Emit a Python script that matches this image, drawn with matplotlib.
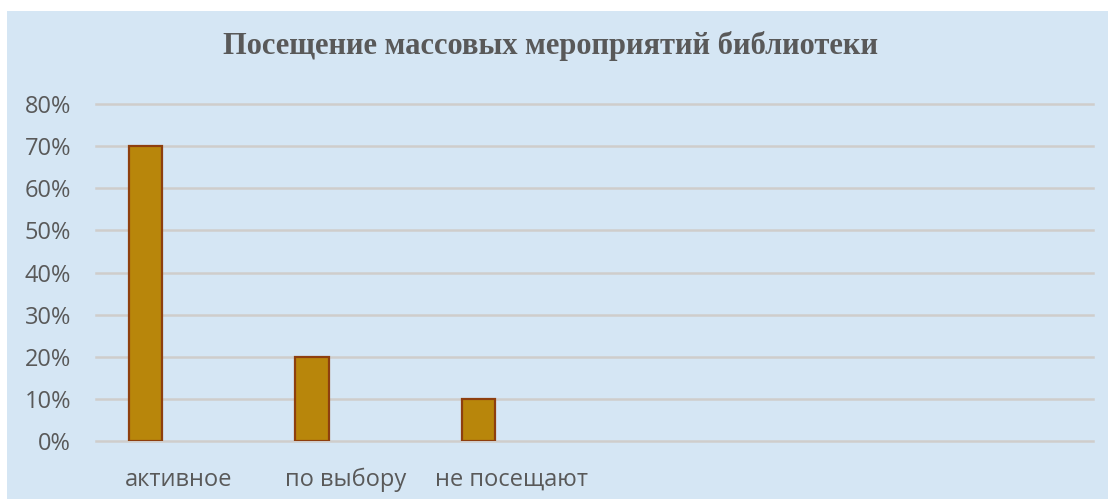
import matplotlib.pyplot as plt
from matplotlib.patches import Rectangle
from matplotlib.ticker import PercentFormatter

title = "Посещение массовых мероприятий библиотеки"
categories = ["активное", "по выбору", "не посещают"]
shares = [0.70, 0.20, 0.10]
n_slots = 6
y_ticks = [0.0, 0.1, 0.2, 0.3, 0.4, 0.5, 0.6, 0.7, 0.8]

bg = "#D5E6F4"
text_col = "#595959"

fig = plt.figure(figsize=(11.08, 4.99), dpi=100)
fig.patch.set_facecolor("white")
fig.patches.append(
    Rectangle(
        (7 / 1108, 0),
        1 - 7 / 1108,
        1 - 11 / 499,
        transform=fig.transFigure,
        facecolor=bg,
        edgecolor="none",
        zorder=-5
    )
)

ax = fig.add_axes([96 / 1108, 1 - 441 / 499, (1093 - 96) / 1108, (441 - 104) / 499])
ax.set_facecolor("none")
ax.set_zorder(2)

# clustered layout: this series sits first in a cluster of three
bar_w = 0.2
xs = [i - bar_w for i in range(len(categories))]
ax.bar(
    xs,
    shares,
    width=bar_w,
    color="#B8860B",
    edgecolor="#8E3F0E",
    linewidth=1.6,
    zorder=3
)

ax.set_xlim(-0.5, n_slots - 0.5)
ax.set_ylim(0, 0.8)
ax.set_yticks(y_ticks)
ax.yaxis.set_major_formatter(PercentFormatter(1.0, decimals=0))
ax.set_xticks(range(len(categories)))
ax.set_xticklabels(categories)

for y in y_ticks:
    ax.axhline(y, color="#CFCDCB", linewidth=1.8, zorder=1, clip_on=False)

for s in ax.spines.values():
    s.set_visible(False)

ax.tick_params(axis="both", length=0, labelsize=17, labelcolor=text_col,
               labelfontfamily="Open Sans")
ax.tick_params(axis="y", pad=18)
ax.tick_params(axis="x", pad=19.5)

fig.text(
    0.497, 1 - 46 / 499, title,
    ha="center", va="center",
    fontsize=22, fontweight="bold",
    family="Liberation Serif", color=text_col
)

fig.savefig("out.png", dpi=100)
